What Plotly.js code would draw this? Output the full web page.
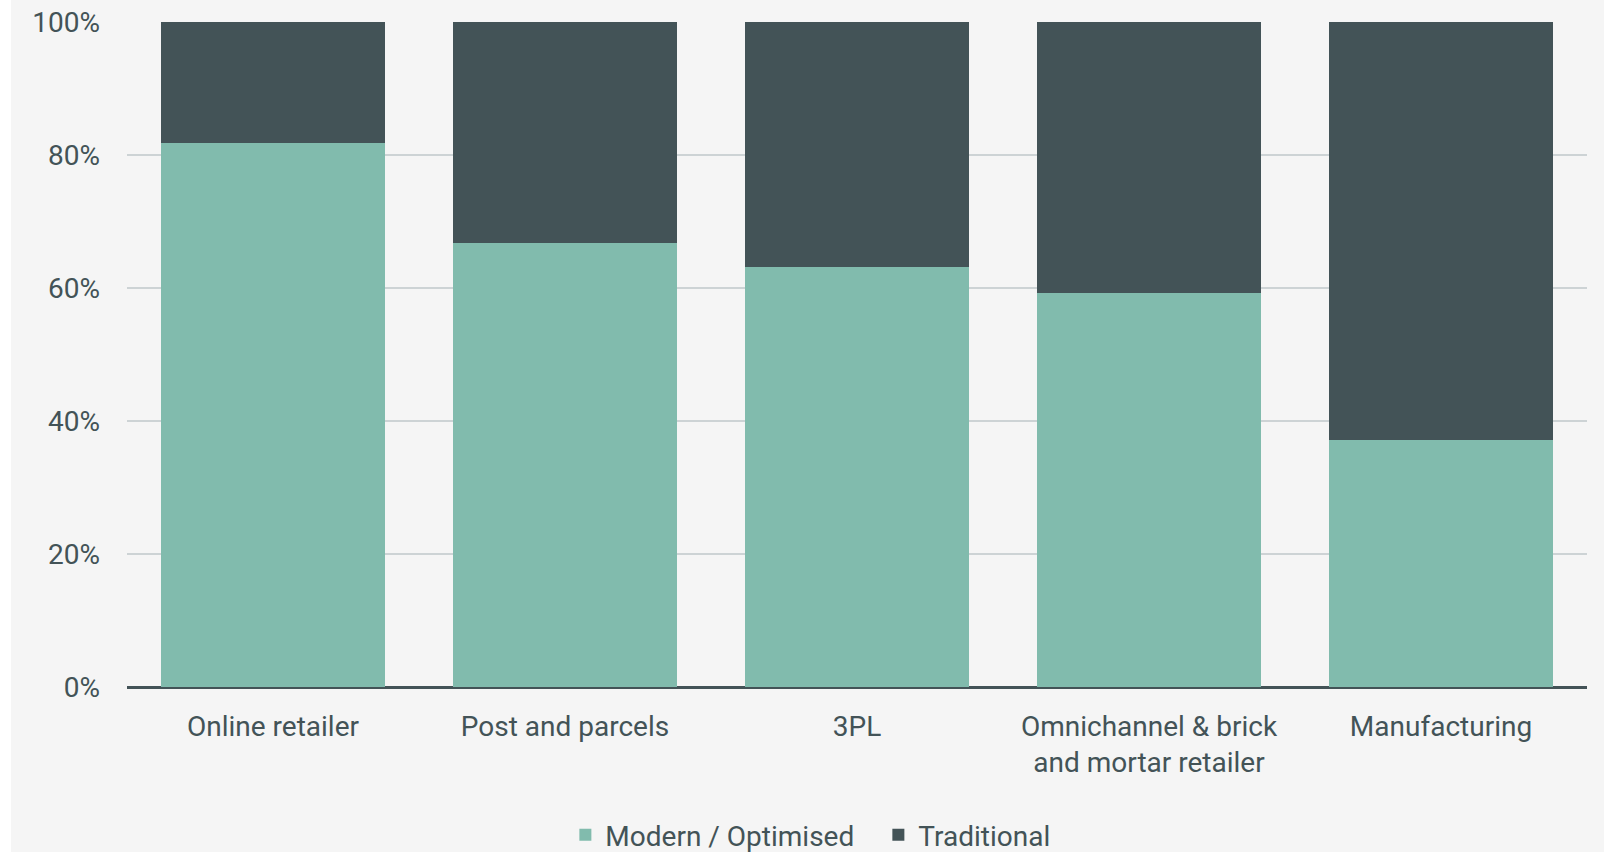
<!DOCTYPE html>
<html>
<head>
<meta charset="utf-8">
<script src="https://cdn.plot.ly/plotly-3.0.1.min.js"></script>
<style>
  html, body { margin: 0; padding: 0; background: #ffffff; }
  #chart { position: absolute; left: 11px; top: 0; width: 1593px; height: 852px; }
</style>
</head>
<body>
<div id="chart"></div>
<script>
const categories = ["Online retailer", "Post and parcels", "3PL", "Omnichannel & brick<br>and mortar retailer", "Manufacturing"];
const modernOptimised = [0.818, 0.667, 0.632, 0.592, 0.371];
const traditional = [0.182, 0.333, 0.368, 0.408, 0.629];
const yTickValues = [0, 0.2, 0.4, 0.6, 0.8, 1.0];
const yTickLabels = ["0%", "20%", "40%", "60%", "80%", "100%"];

const textColor = "#435357";
const fontFamily = "Roboto, 'Noto Sans', sans-serif";

const traces = [
  {
    type: "bar",
    name: "Modern / Optimised",
    x: categories,
    y: modernOptimised,
    marker: { color: "#81bbad", line: { width: 0 } },
    hoverinfo: "none"
  },
  {
    type: "bar",
    name: "Traditional",
    x: categories,
    y: traditional,
    marker: { color: "#435357", line: { width: 0 } },
    hoverinfo: "none"
  }
];

const layout = {
  width: 1593,
  height: 852,
  barmode: "stack",
  bargap: 0.23,
  paper_bgcolor: "#f5f5f5",
  plot_bgcolor: "#f5f5f5",
  margin: { l: 116, r: 17, t: 22, b: 165, pad: 0 },
  font: { family: fontFamily, size: 28, color: textColor },
  xaxis: {
    type: "category",
    showgrid: false,
    showline: false,
    zeroline: false,
    ticks: "",
    ticklabelstandoff: 20,
    tickfont: { family: fontFamily, size: 28, color: textColor }
  },
  yaxis: {
    range: [0, 1],
    tickmode: "array",
    tickvals: yTickValues,
    ticktext: yTickLabels,
    showgrid: true,
    gridcolor: "#cdd3d5",
    gridwidth: 1.5,
    zeroline: true,
    zerolinecolor: "#435357",
    zerolinewidth: 3,
    showline: false,
    ticks: "",
    ticklabelstandoff: 26,
    tickfont: { family: fontFamily, size: 28, color: textColor }
  },
  showlegend: true,
  legend: {
    orientation: "h",
    xref: "container",
    x: 0.348,
    xanchor: "left",
    yref: "container",
    y: 0.02,
    yanchor: "middle",
    entrywidth: 268,
    entrywidthmode: "pixels",
    font: { family: fontFamily, size: 28, color: textColor },
    bgcolor: "rgba(0,0,0,0)",
    traceorder: "normal"
  }
};

Plotly.newPlot("chart", traces, layout, { staticPlot: true, displayModeBar: false });
</script>
</body>
</html>
